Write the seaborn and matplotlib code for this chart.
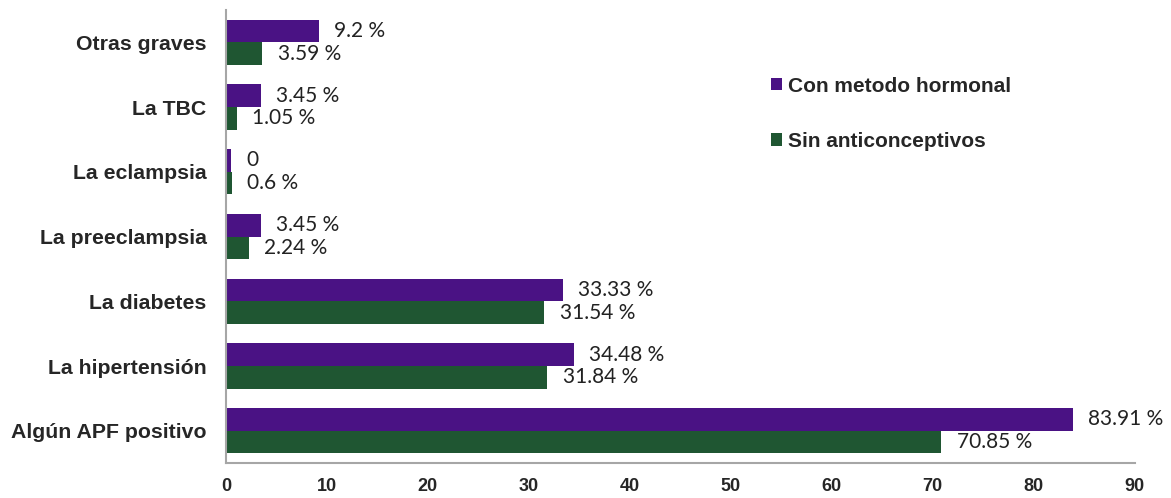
import matplotlib
matplotlib.use("Agg")
import matplotlib.pyplot as plt
import seaborn as sns
import pandas as pd
from matplotlib.patches import Patch

categories = ["Otras graves", "La TBC", "La eclampsia", "La preeclampsia",
              "La diabetes", "La hipertensión", "Algún APF positivo"]
series_names = ["Con metodo hormonal", "Sin anticonceptivos"]
con_hormonal = [9.2, 3.45, 0.5, 3.45, 33.33, 34.48, 83.91]
con_hormonal_labels = ["9.2 %", "3.45 %", "0", "3.45 %", "33.33 %", "34.48 %", "83.91 %"]
sin_anticon = [3.59, 1.05, 0.6, 2.24, 31.54, 31.84, 70.85]
sin_anticon_labels = ["3.59 %", "1.05 %", "0.6 %", "2.24 %", "31.54 %", "31.84 %", "70.85 %"]
x_ticks = [0, 10, 20, 30, 40, 50, 60, 70, 80, 90]

df = pd.DataFrame({
    "cat": categories * 2,
    "serie": [series_names[0]] * len(categories) + [series_names[1]] * len(categories),
    "val": con_hormonal + sin_anticon,
})

sns.set_theme(style="white")
plt.rcParams["font.family"] = ["Liberation Sans", "DejaVu Sans"]

colors = {series_names[0]: "#4a1284", series_names[1]: "#1f5632"}

fig = plt.figure(figsize=(11.71, 4.98), dpi=100)
ax = fig.add_axes([0.193, 0.07, 0.776, 0.91])
sns.barplot(data=df, y="cat", x="val", hue="serie", orient="h",
            palette=colors, width=0.7, ax=ax, saturation=1, legend=False,
            edgecolor="none")

ax.set_xlim(0, 90)
ax.set_xticks(x_ticks)
ax.set_xticklabels([str(t) for t in x_ticks], fontweight="bold", fontsize=13)
ax.set_yticks(range(len(categories)))
ax.set_yticklabels(categories, fontweight="bold", fontsize=15.3)
ax.tick_params(axis="x", length=0, pad=11)
ax.tick_params(axis="y", length=0, pad=14)
ax.set_xlabel("")
ax.set_ylabel("")
for s in ["top", "right"]:
    ax.spines[s].set_visible(False)
for s in ["left", "bottom"]:
    ax.spines[s].set_color("#a6a6a6")
    ax.spines[s].set_linewidth(1.5)

labels_by_series = [con_hormonal_labels, sin_anticon_labels]
for cont, labs in zip(ax.containers, labels_by_series):
    ax.bar_label(cont, labels=labs, padding=11, fontsize=15,
                 family=["Lato", "DejaVu Sans"], color="#222222")

handles = [Patch(facecolor=colors[n], edgecolor="none") for n in series_names]
fig.legend(handles, series_names, loc="upper left",
           bbox_to_anchor=(0.642, 0.884), frameon=False,
           prop={"weight": "bold", "size": 15},
           handlelength=0.55, handleheight=0.55, handletextpad=0.3,
           labelspacing=1.75)

fig.savefig("out.png", dpi=100)
